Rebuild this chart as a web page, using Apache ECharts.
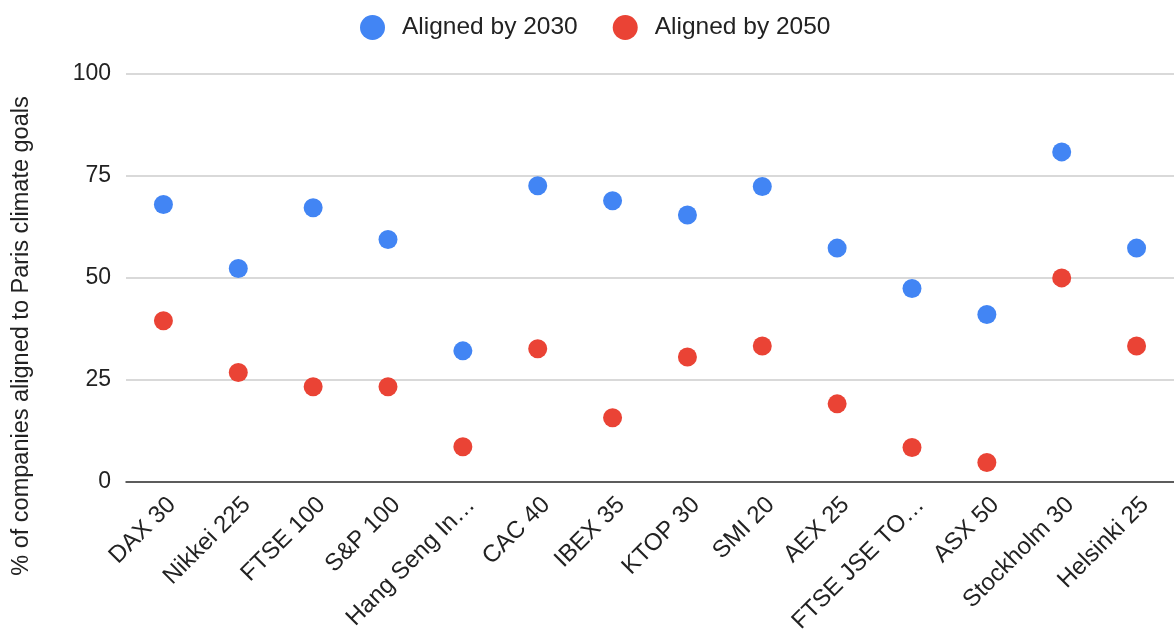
<!DOCTYPE html>
<html><head><meta charset="utf-8">
<script src="https://cdn.jsdelivr.net/npm/echarts@6/dist/echarts.min.js"></script>
<style>html,body{margin:0;padding:0;background:#fff}#c{width:1174px;height:636px}</style>
</head><body><div id="c"></div>
<script>
const categories = ["DAX 30","Nikkei 225","FTSE 100","S&P 100","Hang Seng In…","CAC 40","IBEX 35","KTOP 30","SMI 20","AEX 25","FTSE JSE TO…","ASX 50","Stockholm 30","Helsinki 25"];
const aligned2030 = [68, 52.3, 67.2, 59.4, 32.1, 72.6, 68.9, 65.4, 72.4, 57.3, 47.4, 41, 80.9, 57.3];
const aligned2050 = [39.5, 26.8, 23.3, 23.3, 8.6, 32.6, 15.7, 30.6, 33.3, 19.1, 8.4, 4.7, 50, 33.3];
const yTicks = [0, 25, 50, 75, 100];
const seriesNames = ["Aligned by 2030", "Aligned by 2050"];
const yTitle = "% of companies aligned to Paris climate goals";

const chart = echarts.init(document.getElementById('c'));
const font = "Liberation Sans, Arial, Helvetica, sans-serif";
chart.setOption({
  animation: false,
  textStyle: {fontFamily: font},
  legend: {
    top: 10, left: 355,
    itemWidth: 25, itemHeight: 25, itemGap: 35, icon: 'circle',
    textStyle: {fontSize: 24.5, color: '#222', fontFamily: font, padding: [0, 0, 0, 12]},
    data: seriesNames
  },
  grid: {left: 126, top: 74, width: 1054, height: 408, containLabel: false},
  xAxis: {
    type: 'category', data: categories, boundaryGap: true,
    axisLine: {lineStyle: {color: '#333', width: 1.5}},
    axisTick: {show: false},
    axisLabel: {rotate: 45, fontSize: 24, color: '#222', margin: 11, interval: 0, verticalAlign: 'top', fontFamily: font}
  },
  yAxis: {
    type: 'value', min: yTicks[0], max: yTicks[yTicks.length-1], interval: 25,
    axisLine: {show: false}, axisTick: {show: false},
    splitLine: {lineStyle: {color: '#ccc', width: 1.5}},
    axisLabel: {fontSize: 23, color: '#222', margin: 15, fontFamily: font}
  },
  graphic: [{
    type: 'text',
    x: 22, y: 336,
    rotation: Math.PI/2,
    style: {text: yTitle, fontSize: 23.5, fill: '#222', fontFamily: font, align: 'center', verticalAlign: 'middle'}
  }],
  series: [
    {name: seriesNames[0], type: 'scatter', data: aligned2030, symbolSize: 19, itemStyle: {color: '#4285F4', opacity: 1}},
    {name: seriesNames[1], type: 'scatter', data: aligned2050, symbolSize: 19, itemStyle: {color: '#EA4335', opacity: 1}}
  ]
});
</script></body></html>
